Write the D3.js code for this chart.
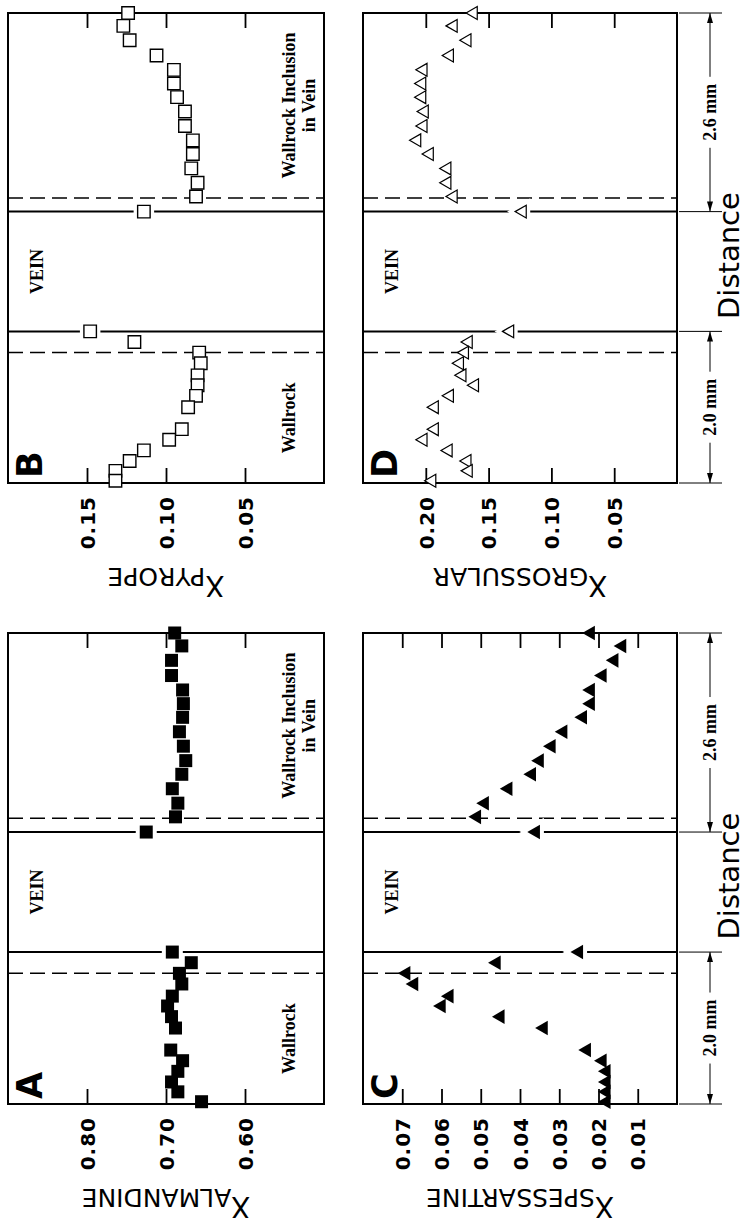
<!DOCTYPE html>
<html>
<head>
<meta charset="utf-8">
<script src="https://cdn.jsdelivr.net/npm/d3@7"></script>
<style>
  body { margin: 0; background: #fff; }
  .tickLbl { font-family: "DejaVu Sans"; font-weight: bold; font-size: 20px; letter-spacing: 1px; fill: #000; }
  .zoneLbl { font-family: "Liberation Serif"; font-weight: bold; font-size: 18px; }
  .axTitle { font-family: "DejaVu Sans"; }
  .panelId { font-family: "DejaVu Sans"; font-weight: bold; font-size: 35px; }
  .distLbl { font-family: "DejaVu Sans"; font-size: 29px; }
</style>
</head>
<body>
<div id="fig"></div>
<script>
//////////////////////////////////////////////////////////////////// DATA /////////////////////////////////////////////////////////////////
// distance along the traverse, mm (0 = wallrock end), same analyses for every end-member
var distance = [6.2, 6.03, 5.84, 5.64, 5.45, 5.27, 5.09, 4.9, 4.71, 4.52, 4.34, 4.15, 3.96, 3.78,
                3.58, 2.0,
                1.86, 1.72, 1.58, 1.42, 1.29, 1.15, 1.0, 0.71, 0.57, 0.43, 0.29, 0.16, 0.03];

var almandine = [0.689, 0.680, 0.693, 0.693, 0.679, 0.678, 0.679, 0.683, 0.678, 0.675, 0.680, 0.692, 0.685, 0.688,
                 0.725, 0.692,
                 0.668, 0.683, 0.680, 0.692, 0.698, 0.693, 0.688, 0.694, 0.679, 0.685, 0.693, 0.685, 0.655];

var pyrope = [0.124, 0.127, 0.123, 0.106, 0.095, 0.095, 0.093, 0.088, 0.088, 0.083, 0.083, 0.084, 0.080, 0.081,
              0.114, 0.148,
              0.120, 0.079, 0.078, 0.080, 0.080, 0.081, 0.086, 0.090, 0.098, 0.114, 0.123, 0.132, 0.132];

var spessartine = [0.022, 0.014, 0.016, 0.019, 0.022, 0.022, 0.024, 0.029, 0.032, 0.035, 0.037, 0.043, 0.049, 0.051,
                   0.036, 0.025,
                   0.046, 0.069, 0.067, 0.058, 0.060, 0.045, 0.034, 0.023, 0.019, 0.018, 0.018, 0.018, 0.018];

var grossular = [0.162, 0.178, 0.167, 0.181, 0.202, 0.203, 0.203, 0.201, 0.202, 0.207, 0.197, 0.183, 0.183, 0.178,
                 0.123, 0.133,
                 0.166, 0.169, 0.173, 0.171, 0.161, 0.181, 0.193, 0.193, 0.202, 0.182, 0.167, 0.166, 0.195];

var almTicks = [0.80, 0.70, 0.60];
var pyrTicks = [0.15, 0.10, 0.05];
var spsTicks = [0.07, 0.06, 0.05, 0.04, 0.03, 0.02, 0.01];
var grsTicks = [0.20, 0.15, 0.10, 0.05];

var veinEdges = [2.0, 3.58];      // solid lines
var dashEdges = [1.72, 3.76];     // dashed lines
var distMax = 6.2;
var dimensions = [ { from: 0, to: 2.0, label: "2.0 mm" }, { from: 3.58, to: 6.2, label: "2.6 mm" } ];

//////////////////////////////////////////////////////////////////// LAYOUT /////////////////////////////////////////////////////////////////
var width = 747, height = 1222;

var svg = d3.select("#fig")
  .append("svg")
    .attr("width", width)
    .attr("height", height);

var symbols = {
  openSquare:     { type: d3.symbolSquare,   size: 156, fill: "#fff", sw: 1.4, rot: 0 },
  filledSquare:   { type: d3.symbolSquare,   size: 169, fill: "#000", sw: 0,   rot: 0 },
  openTriangle:   { type: d3.symbolTriangle, size: 72,  fill: "#fff", sw: 1.2, rot: -90 },
  filledTriangle: { type: d3.symbolTriangle, size: 92,  fill: "#000", sw: 0,   rot: -90 }
};

var panels = [
  { id: "B", values: pyrope,      domain: [0.20, 0],   ticks: pyrTicks, title: "PYROPE",      marker: "openSquare",
    left: 8,   right: 324, top: 13,  bottom: 483,  zones: true,  dims: false },
  { id: "D", values: grossular,   domain: [0.25, 0],   ticks: grsTicks, title: "GROSSULAR",   marker: "openTriangle",
    left: 363, right: 677, top: 13,  bottom: 483,  zones: false, dims: true },
  { id: "A", values: almandine,   domain: [0.90, 0.50], ticks: almTicks, title: "ALMANDINE",  marker: "filledSquare",
    left: 8,   right: 324, top: 633, bottom: 1104, zones: true,  dims: false },
  { id: "C", values: spessartine, domain: [0.08, 0],   ticks: spsTicks, title: "SPESSARTINE", marker: "filledTriangle",
    left: 363, right: 677, top: 633, bottom: 1104, zones: false, dims: true }
];

panels.forEach(function(p) {

  var g = svg.append("g");

  var x = d3.scaleLinear().domain(p.domain).range([p.left, p.right]);
  var y = d3.scaleLinear().domain([0, distMax]).range([p.bottom, p.top]);

  ///////////////////////////////////////// frame
  g.append("rect")
    .attr("x", p.left).attr("y", p.top)
    .attr("width", p.right - p.left).attr("height", p.bottom - p.top)
    .attr("fill", "none").attr("stroke", "#000").attr("stroke-width", 2);

  ///////////////////////////////////////// ticks (inside, top and bottom)
  var bot = g.append("g")
    .attr("transform", "translate(0," + p.bottom + ")")
    .call(d3.axisBottom(x).tickValues(p.ticks).tickSize(-15).tickPadding(0).tickFormat(d3.format(".2f")));
  bot.select(".domain").remove();
  bot.selectAll("line").attr("stroke-width", 1.8);
  bot.selectAll("text")
    .attr("class", "tickLbl")
    .attr("transform", "rotate(-90)")
    .attr("x", -13).attr("y", 0).attr("dy", "0.36em")
    .attr("text-anchor", "end");

  var top = g.append("g")
    .attr("transform", "translate(0," + p.top + ")")
    .call(d3.axisTop(x).tickValues(p.ticks).tickSize(-15).tickFormat(""));
  top.select(".domain").remove();
  top.selectAll("line").attr("stroke-width", 1.8);

  ///////////////////////////////////////// vein margins
  veinEdges.forEach(function(d) {
    g.append("line")
      .attr("x1", p.left).attr("x2", p.right)
      .attr("y1", y(d)).attr("y2", y(d))
      .attr("stroke", "#000").attr("stroke-width", 2);
  });
  dashEdges.forEach(function(d) {
    g.append("line")
      .attr("x1", p.left).attr("x2", p.right)
      .attr("y1", y(d)).attr("y2", y(d))
      .attr("stroke", "#000").attr("stroke-width", 1.5)
      .attr("stroke-dasharray", "15,7");
  });

  ///////////////////////////////////////// zone labels
  function zoneText(txt, bx, d) {
    g.append("text")
      .attr("class", "zoneLbl")
      .attr("transform", "translate(" + bx + "," + y(d) + ") rotate(-90)")
      .attr("text-anchor", "middle")
      .text(txt);
  }
  zoneText("VEIN", p.left + 35, (veinEdges[0] + veinEdges[1]) / 2);
  if (p.zones) {
    zoneText("Wallrock Inclusion", p.left + 287, (dashEdges[1] + distMax) / 2);
    zoneText("in Vein", p.left + 307, (dashEdges[1] + distMax) / 2);
    zoneText("Wallrock", p.left + 287, dashEdges[0] / 2);
  }

  ///////////////////////////////////////// data points
  var s = symbols[p.marker];
  var pts = distance.map(function(d, i) { return { d: d, v: p.values[i] }; });

  // white gap where a point sits on a solid margin line
  g.selectAll(".halo")
    .data(pts.filter(function(o) { return veinEdges.indexOf(o.d) >= 0; }))
    .enter().append("path")
      .attr("d", d3.symbol().type(s.type).size(s.size))
      .attr("transform", function(o) { return "translate(" + x(o.v) + "," + y(o.d) + ") rotate(" + s.rot + ")"; })
      .attr("fill", "#fff").attr("stroke", "#fff").attr("stroke-width", 8);

  g.selectAll(".pt")
    .data(pts)
    .enter().append("path")
      .attr("d", d3.symbol().type(s.type).size(s.size))
      .attr("transform", function(o) { return "translate(" + x(o.v) + "," + y(o.d) + ") rotate(" + s.rot + ")"; })
      .attr("fill", s.fill)
      .attr("stroke", "#000")
      .attr("stroke-width", s.sw);

  ///////////////////////////////////////// panel letter
  g.append("text")
    .attr("class", "panelId")
    .attr("transform", "translate(" + (p.left + 34) + "," + (p.bottom - 5) + ") rotate(-90)")
    .text(p.id);

  ///////////////////////////////////////// axis title (upside down, X + subscript)
  var cx = (p.left + p.right) / 2, by = p.bottom + 93;
  var t = g.append("text")
    .attr("class", "axTitle")
    .attr("x", cx).attr("y", by)
    .attr("text-anchor", "middle")
    .attr("transform", "rotate(180," + cx + "," + by + ")");
  t.append("tspan").attr("font-size", 28).text("X");
  t.append("tspan").attr("font-size", 25).attr("dy", 8).text(p.title);

  ///////////////////////////////////////// distance dimensions on the right
  if (p.dims) {
    var ex = p.right + 2, ex2 = p.right + 45, dx = p.right + 33;
    [0, veinEdges[0], veinEdges[1], distMax].forEach(function(d) {
      g.append("line")
        .attr("x1", ex).attr("x2", ex2)
        .attr("y1", y(d)).attr("y2", y(d))
        .attr("stroke", "#000").attr("stroke-width", 1);
    });

    dimensions.forEach(function(dm) {
      var y0 = y(dm.from), y1 = y(dm.to), ym = (y0 + y1) / 2;
      var lbl = g.append("text")
        .attr("class", "zoneLbl")
        .attr("transform", "translate(" + dx + "," + ym + ") rotate(-90)")
        .attr("text-anchor", "middle")
        .attr("dy", "0.35em")
        .text(dm.label);
      var half = lbl.node().getComputedTextLength() / 2 + 7;
      g.append("line").attr("x1", dx).attr("x2", dx).attr("y1", y1).attr("y2", ym - half)
        .attr("stroke", "#000").attr("stroke-width", 1);
      g.append("line").attr("x1", dx).attr("x2", dx).attr("y1", ym + half).attr("y2", y0)
        .attr("stroke", "#000").attr("stroke-width", 1);
      // arrow heads
      g.append("path")
        .attr("d", "M" + dx + "," + y1 + " l-3,10 l6,0 z").attr("fill", "#000");
      g.append("path")
        .attr("d", "M" + dx + "," + y0 + " l-3,-10 l6,0 z").attr("fill", "#000");
    });

    g.append("text")
      .attr("class", "distLbl")
      .attr("transform", "translate(739," + y(3.0) + ") rotate(-90)")
      .attr("text-anchor", "middle")
      .text("Distance");
  }
});
</script>
</body>
</html>
